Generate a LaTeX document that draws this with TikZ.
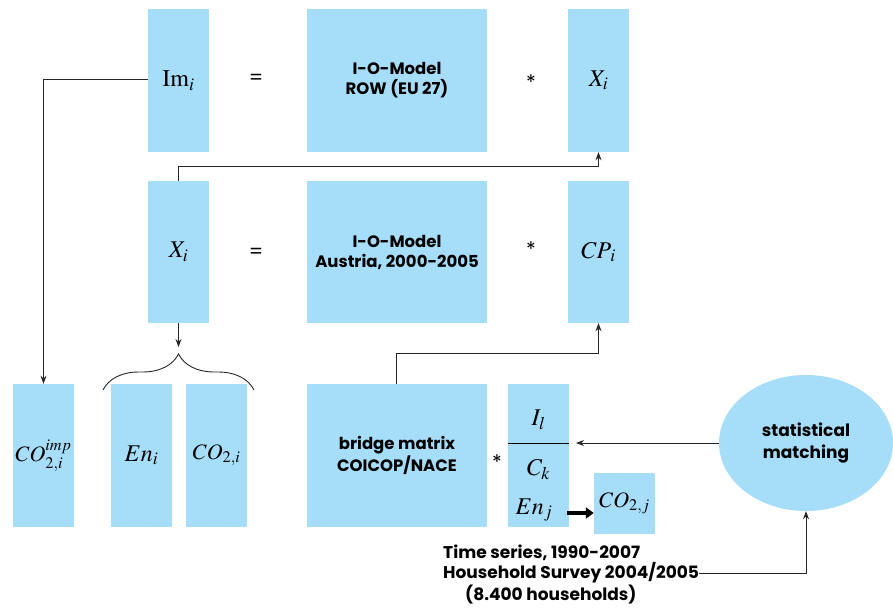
\documentclass[tikz,border=0pt]{standalone}
\usepackage{mathptmx}
\usepackage[no-math]{fontspec}
\newfontfamily\gothic{Poppins}
\usetikzlibrary{arrows.meta,shapes.geometric,decorations.pathreplacing}
\definecolor{boxblue}{RGB}{166,221,248}
\tikzset{
  bx/.style={fill=boxblue,draw=none,inner sep=0pt,minimum width=61pt,minimum height=143pt},
  wide/.style={bx,minimum width=180pt,align=center,font=\gothic\bfseries\fontsize{16.5}{20}\selectfont},
  mth/.style={font=\fontsize{24}{26}\selectfont},
  mths/.style={font=\fontsize{22}{24}\selectfont},
  op/.style={font=\gothic\fontsize{20}{22}\selectfont},
  conn/.style={draw=black!85,line width=0.9pt},
  arr/.style={conn,-{Stealth[length=8pt,width=6pt]}},
  txt/.style={anchor=west,inner sep=0pt,font=\gothic\bfseries\fontsize{17}{20}\selectfont}
}
\begin{document}
\begin{tikzpicture}[x=1pt,y=-1pt]
\useasboundingbox (0,0) rectangle (893,607);
% row 1
\node[bx,mth] (im) at (178.5,80.5) {$\mathrm{Im}_i$};
\node[op] (eq1) at (256,79) {=};
\node[wide] (row) at (397,80.5) {I-O-Model\\ROW (EU 27)};
\node[op] (st1) at (531,82) {*};
\node[bx,mth] (xtop) at (598.5,80.5) {$X_i$};
% row 2
\node[bx,mth,minimum height=142pt] (xi) at (178.5,252) {$X_i$};
\node[op] (eq2) at (256,253) {=};
\node[wide,minimum height=142pt] (aut) at (397,252) {I-O-Model\\Austria, 2000-2005};
\node[op] (st2) at (531,249) {*};
\node[bx,mth,minimum height=142pt] (cp) at (598.5,252) {$CP_{\,i}$};
% row 3
\node[bx,mths] (co2imp) at (43.5,455.5) {$CO_{2,i}^{imp}$};
\node[bx,mth] (eni) at (141.5,455.5) {$En_i$};
\node[bx,mths] (co2i) at (216.5,455.5) {$CO_{2,i}$};
\node[wide] (bridge) at (397,455.5) {bridge matrix\\COICOP/NACE};
\node[op] (st3) at (497,462) {*};
\node[bx] (il) at (538.5,455.5) {};
\node[mth] (iltxt) at (538.5,420) {$I_l$};
\node[mth] (cktxt) at (538.5,470) {$C_k$};
\node[mth] (enj) at (534,510) {$En_j$};
\node[bx,mths,minimum height=61pt] (co2j) at (624.5,503.5) {$CO_{2,j}$};
\node[ellipse,fill=boxblue,inner sep=0pt,minimum width=174pt,minimum height=136pt,align=center,font=\gothic\bfseries\fontsize{17}{22}\selectfont] (sm) at (806,443) {statistical\\matching};
% bottom text
\node[txt] (t1) at (443,553) {Time series, 1990-2007};
\node[txt] (t2) at (443,573) {Household Survey 2004/2005};
\node[txt] (t3) at (465,595) {(8.400 households)};
% fraction line
\draw[line width=0.9pt] (il.west |- 0,443) -- (il.east |- 0,443);
% connectors
\coordinate (c1) at (43.5,79);
\draw[arr] (im.west |- c1) -- (c1) -- (co2imp.north);
\coordinate (c2) at (178.5,166);
\draw[arr] (xi.north) -- (c2) -- (c2 -| xtop.south) -- (xtop.south);
\coordinate (bt) at (178.5,347);
\draw[arr] (xi.south) -- (bt);
\coordinate (b1) at (103,390);
\coordinate (b2) at (254,390);
\draw[conn,decorate,decoration={brace,amplitude=36pt}] (b1) -- (b2);
\coordinate (c3) at (396,353);
\draw[arr] (bridge.north -| c3) -- (c3) -- (c3 -| cp.south) -- (cp.south);
\coordinate (c4) at (576,443);
\draw[arr] (sm.west) -- (c4);
\coordinate (c5) at (806,573);
\draw[arr] (t2.east) -- (c5) -- (sm.south);
\coordinate (ta) at (567,513);
\draw[line width=3.5pt,-{Triangle[length=8pt,width=11pt]}] (ta) -- (co2j.west |- ta);
\end{tikzpicture}
\end{document}
